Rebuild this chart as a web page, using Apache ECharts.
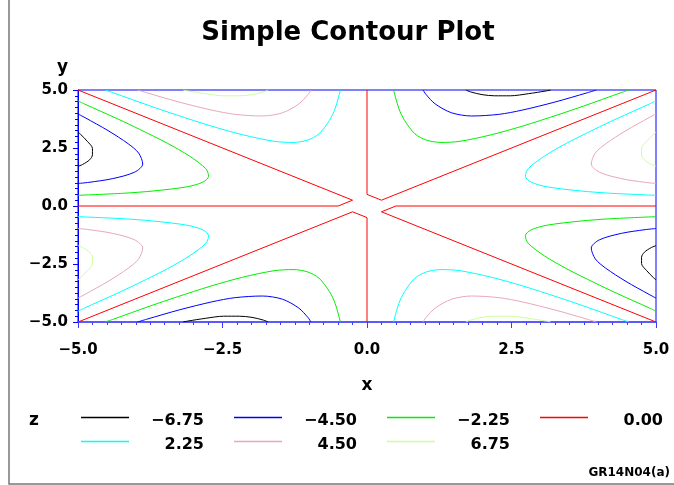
<!DOCTYPE html>
<html>
<head>
<meta charset="utf-8">
<script src="https://cdn.jsdelivr.net/npm/echarts@6/dist/echarts.min.js"></script>
<style>
  html, body { margin: 0; padding: 0; background: #fff; }
  #chart { width: 674px; height: 485px; }
</style>
</head>
<body>
<div id="chart"></div>
<script>
const F = 'DejaVu Sans'

// contour levels, legend order
const levels = ['\u22126.75', '\u22124.50', '\u22122.25', '0.00', '2.25', '4.50', '6.75']
const levelColors = ['#000000', '#0000ff', '#00ee00', '#ff0000', '#00ffff', '#e8a8b8', '#ccff99']

const tickVals = [-5, -2.5, 0, 2.5, 5]
const tickLabels = ['\u22125.0', '\u22122.5', '0.0', '2.5', '5.0']

// contour lines, [x, y] per point, one list per piece
const zNeg675 = [
  [[1.71,5],[1.79,4.92],[1.99,4.80],[2.21,4.75],[2.48,4.75],[2.79,4.84],[3.10,4.96],[3.18,5]],
  [[-5,1.71],[-4.92,1.79],[-4.80,1.99],[-4.75,2.21],[-4.75,2.48],[-4.84,2.79],[-4.96,3.10],[-5,3.18]],
  [[-1.71,-5],[-1.79,-4.92],[-1.99,-4.80],[-2.21,-4.75],[-2.48,-4.75],[-2.79,-4.84],[-3.10,-4.96],[-3.18,-5]],
  [[5,-1.71],[4.92,-1.79],[4.80,-1.99],[4.75,-2.21],[4.75,-2.48],[4.84,-2.79],[4.96,-3.10],[5,-3.18]]
]
const zNeg450 = [
  [[0.97,5],[1.02,4.81],[1.18,4.40],[1.46,4.02],[1.81,3.88],[2.28,3.95],[2.68,4.13],[3.25,4.48],[3.81,4.88],[3.97,5]],
  [[-5,0.97],[-4.81,1.02],[-4.40,1.18],[-4.02,1.46],[-3.88,1.81],[-3.95,2.28],[-4.13,2.68],[-4.48,3.25],[-4.88,3.81],[-5,3.97]],
  [[-0.97,-5],[-1.02,-4.81],[-1.18,-4.40],[-1.46,-4.02],[-1.81,-3.88],[-2.28,-3.95],[-2.68,-4.13],[-3.25,-4.48],[-3.81,-4.88],[-3.97,-5]],
  [[5,-0.97],[4.81,-1.02],[4.40,-1.18],[4.02,-1.46],[3.88,-1.81],[3.95,-2.28],[4.13,-2.68],[4.48,-3.25],[4.88,-3.81],[5,-3.97]]
]
const zNeg225 = [
  [[0.46,5],[0.55,4.21],[0.65,3.69],[0.83,3.11],[1.03,2.84],[1.28,2.74],[1.61,2.79],[2.15,3.07],[2.70,3.45],[3.30,3.93],[3.75,4.31],[4.40,4.89],[4.53,5]],
  [[-5,0.46],[-4.21,0.55],[-3.69,0.65],[-3.11,0.83],[-2.84,1.03],[-2.74,1.28],[-2.79,1.61],[-3.07,2.15],[-3.45,2.70],[-3.93,3.30],[-4.31,3.75],[-4.89,4.40],[-5,4.53]],
  [[-0.46,-5],[-0.55,-4.21],[-0.65,-3.69],[-0.83,-3.11],[-1.03,-2.84],[-1.28,-2.74],[-1.61,-2.79],[-2.15,-3.07],[-2.70,-3.45],[-3.30,-3.93],[-3.75,-4.31],[-4.40,-4.89],[-4.53,-5]],
  [[5,-0.46],[4.21,-0.55],[3.69,-0.65],[3.11,-0.83],[2.84,-1.03],[2.74,-1.28],[2.79,-1.61],[3.07,-2.15],[3.45,-2.70],[3.93,-3.30],[4.31,-3.75],[4.89,-4.40],[5,-4.53]]
]
const zZero = [
  [[-5,5],[-0.25,0.25],[-0.5,0],[-5,0]],
  [[-5,-5],[-0.25,-0.25],[0,-0.5],[0,-5]],
  [[0,5],[0,0.5],[0.25,0.25],[5,5]],
  [[5,0],[0.5,0],[0.25,-0.25],[5,-5]]
]
const zPos225 = [
  [[5,0.46],[4.21,0.55],[3.69,0.65],[3.11,0.83],[2.84,1.03],[2.74,1.28],[2.79,1.61],[3.07,2.15],[3.45,2.70],[3.93,3.30],[4.31,3.75],[4.89,4.40],[5,4.53]],
  [[-0.46,5],[-0.55,4.21],[-0.65,3.69],[-0.83,3.11],[-1.03,2.84],[-1.28,2.74],[-1.61,2.79],[-2.15,3.07],[-2.70,3.45],[-3.30,3.93],[-3.75,4.31],[-4.40,4.89],[-4.53,5]],
  [[-5,-0.46],[-4.21,-0.55],[-3.69,-0.65],[-3.11,-0.83],[-2.84,-1.03],[-2.74,-1.28],[-2.79,-1.61],[-3.07,-2.15],[-3.45,-2.70],[-3.93,-3.30],[-4.31,-3.75],[-4.89,-4.40],[-5,-4.53]],
  [[0.46,-5],[0.55,-4.21],[0.65,-3.69],[0.83,-3.11],[1.03,-2.84],[1.28,-2.74],[1.61,-2.79],[2.15,-3.07],[2.70,-3.45],[3.30,-3.93],[3.75,-4.31],[4.40,-4.89],[4.53,-5]]
]
const zPos450 = [
  [[5,0.97],[4.81,1.02],[4.40,1.18],[4.02,1.46],[3.88,1.81],[3.95,2.28],[4.13,2.68],[4.48,3.25],[4.88,3.81],[5,3.97]],
  [[-0.97,5],[-1.02,4.81],[-1.18,4.40],[-1.46,4.02],[-1.81,3.88],[-2.28,3.95],[-2.68,4.13],[-3.25,4.48],[-3.81,4.88],[-3.97,5]],
  [[-5,-0.97],[-4.81,-1.02],[-4.40,-1.18],[-4.02,-1.46],[-3.88,-1.81],[-3.95,-2.28],[-4.13,-2.68],[-4.48,-3.25],[-4.88,-3.81],[-5,-3.97]],
  [[0.97,-5],[1.02,-4.81],[1.18,-4.40],[1.46,-4.02],[1.81,-3.88],[2.28,-3.95],[2.68,-4.13],[3.25,-4.48],[3.81,-4.88],[3.97,-5]]
]
const zPos675 = [
  [[5,1.71],[4.92,1.79],[4.80,1.99],[4.75,2.21],[4.75,2.48],[4.84,2.79],[4.96,3.10],[5,3.18]],
  [[-1.71,5],[-1.79,4.92],[-1.99,4.80],[-2.21,4.75],[-2.48,4.75],[-2.79,4.84],[-3.10,4.96],[-3.18,5]],
  [[-5,-1.71],[-4.92,-1.79],[-4.80,-1.99],[-4.75,-2.21],[-4.75,-2.48],[-4.84,-2.79],[-4.96,-3.10],[-5,-3.18]],
  [[1.71,-5],[1.79,-4.92],[1.99,-4.80],[2.21,-4.75],[2.48,-4.75],[2.79,-4.84],[3.10,-4.96],[3.18,-5]]
]
const contours = [zNeg675, zNeg450, zNeg225, zZero, zPos225, zPos450, zPos675]

const series = []
levels.forEach((name, i) => {
  contours[i].forEach(pts => {
    series.push({
      type: 'line',
      name: name,
      data: pts,
      symbol: 'none',
      smooth: i === 3 ? false : 0.3,
      silent: true,
      color: levelColors[i],
      lineStyle: { color: levelColors[i], width: 1 },
      itemStyle: { color: levelColors[i] }
    })
  })
})

const tickLabel = v => tickLabels[tickVals.indexOf(v)]
const labelStyle = { fontFamily: F, fontWeight: 'bold', fontSize: 15, color: '#000' }
const legendItems = levels.map((name, i) => ({
  name: name,
  itemStyle: { color: levelColors[i], borderWidth: 0 },
  lineStyle: { color: levelColors[i] }
}))
const legendCommon = {
  left: 76,
  orient: 'horizontal',
  icon: 'rect',
  itemWidth: 48,
  itemHeight: 1.5,
  itemGap: 30,
  selectedMode: false,
  formatter: n => '{a|' + n + '}',
  textStyle: {
    rich: { a: { width: 70, align: 'right', fontFamily: F, fontWeight: 'bold', fontSize: 16, color: '#000', padding: [7, 0, 0, 0] } }
  }
}

const chart = echarts.init(document.getElementById('chart'))
chart.setOption({
  animation: false,
  backgroundColor: '#fff',
  title: {
    text: 'Simple Contour Plot',
    left: 343,
    textAlign: 'center',
    top: 15,
    textStyle: { fontFamily: F, fontWeight: 'bold', fontSize: 26, color: '#000' }
  },
  grid: { left: 78, right: 18, top: 90, bottom: 163, show: true, borderColor: '#0000ff', borderWidth: 1 },
  xAxis: {
    type: 'value', min: -5, max: 5, interval: 2.5,
    name: 'x', nameLocation: 'middle', nameGap: 55,
    nameTextStyle: { fontFamily: F, fontWeight: 'bold', fontSize: 17, color: '#000' },
    axisLine: { onZero: false, lineStyle: { color: '#5a5aff', width: 2 } },
    axisTick: { length: 6, lineStyle: { color: '#3c3cff' } },
    minorTick: { show: true, splitNumber: 10, length: 3, lineStyle: { color: '#3c3cff' } },
    splitLine: { show: false },
    axisLabel: Object.assign({ margin: 21, formatter: tickLabel }, labelStyle)
  },
  yAxis: {
    type: 'value', min: -5, max: 5, interval: 2.5,
    axisLine: { onZero: false, lineStyle: { color: '#0000ff', width: 1 } },
    axisTick: { length: 5, lineStyle: { color: '#0000ff' } },
    minorTick: { show: true, splitNumber: 10, length: 3, lineStyle: { color: '#0000ff' } },
    splitLine: { show: false },
    axisLabel: Object.assign({ margin: 10, formatter: tickLabel }, labelStyle)
  },
  legend: [
    Object.assign({ top: 408, data: legendItems.slice(0, 4) }, legendCommon),
    Object.assign({ top: 432, data: legendItems.slice(4) }, legendCommon)
  ],
  graphic: [
    { type: 'rect', shape: { x: 9, y: -5, width: 700, height: 489 }, style: { fill: 'none', stroke: '#777', lineWidth: 1.5 }, silent: true },
    { type: 'text', left: 57, top: 59, style: { text: 'y', font: 'bold 17px "DejaVu Sans"', fill: '#000' } },
    { type: 'text', left: 29, top: 412, style: { text: 'z', font: 'bold 17px "DejaVu Sans"', fill: '#000' } },
    { type: 'text', right: 4, top: 467, style: { text: 'GR14N04(a)', font: 'bold 12px "DejaVu Sans"', fill: '#000' } }
  ],
  series: series
})
</script>
</body>
</html>
